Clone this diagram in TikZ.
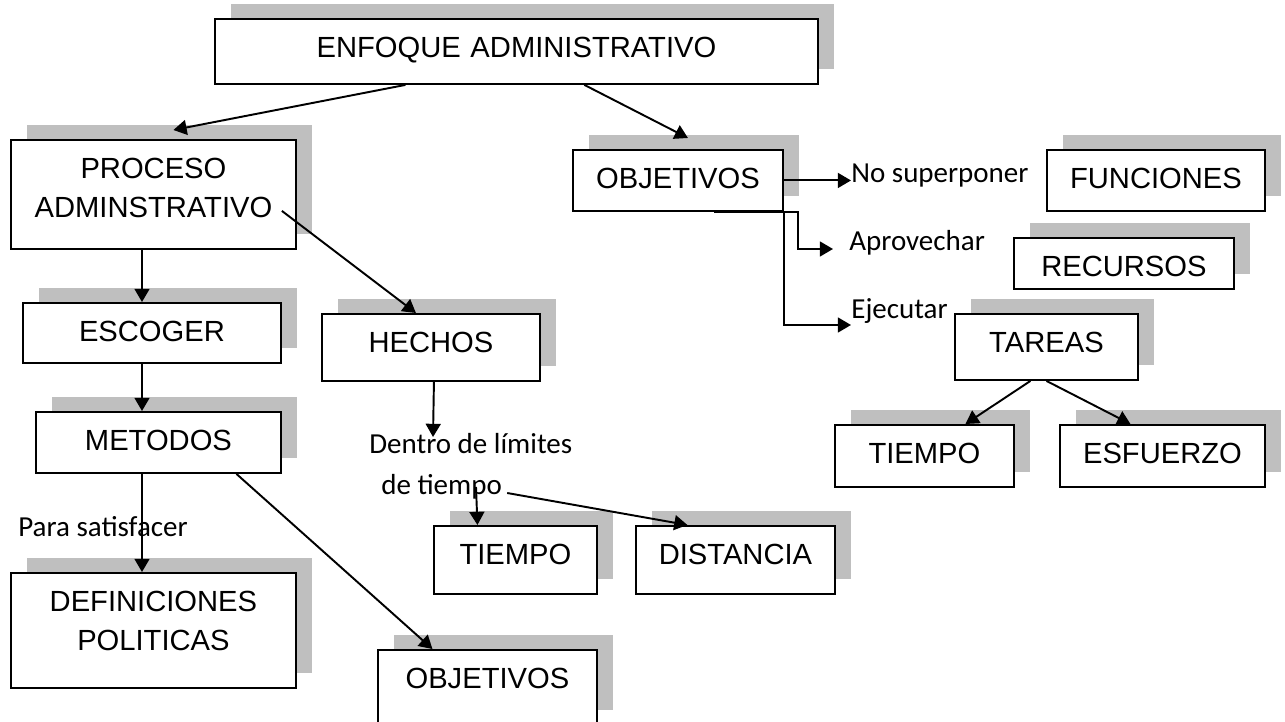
\documentclass[tikz,border=0pt]{standalone}
\usepackage{fontspec}
\setmainfont{Liberation Sans}
\newfontfamily\calibri{Carlito}
\usetikzlibrary{arrows.meta, shadows, calc}
\definecolor{sombra}{RGB}{191,191,191}

\begin{document}
\begin{tikzpicture}[x=0.02cm, y=-0.02cm,
  caja/.style 2 args={draw, fill=white, line width=1.1pt, inner sep=0pt, anchor=north west,
    text width=#1, align=center, text height=.77cm, text depth=#2,
    font=\fontsize{16.6}{22.5}\selectfont,
    general shadow={fill=sombra, shadow xshift=.32cm, shadow yshift=.3cm}},
  etiqueta/.style={inner sep=0pt, anchor=base west, font=\calibri\fontsize{16.5}{20}\selectfont},
  flecha/.style={line width=1.1pt, -{Triangle[length=7.5pt, width=8.5pt]}}]

\clip (0,0) rectangle (1285,722);

% Boxes
\node[caja={12.06cm}{.53cm}] (enf) at (214,18) {ENFOQUE ADMINISTRATIVO};
\node[caja={5.70cm}{1.41cm}] (proc) at (10,139) {PROCESO\\ADMINSTRATIVO};
\node[caja={4.20cm}{.45cm}] (objd) at (572,149) {OBJETIVOS};
\node[caja={4.36cm}{.45cm}] (fun) at (1046,149) {FUNCIONES};
\node[caja={4.40cm}{.25cm}] (rec) at (1013,237) {RECURSOS};
\node[caja={3.66cm}{.55cm}] (tar) at (954,313) {TAREAS};
\node[caja={3.58cm}{.47cm}] (tiemd) at (834,424) {TIEMPO};
\node[caja={4.10cm}{.47cm}] (esf) at (1059,424) {ESFUERZO};
\node[caja={5.16cm}{.43cm}] (esc) at (22,302) {ESCOGER};
\node[caja={4.36cm}{.57cm}] (hec) at (321,313) {HECHOS};
\node[caja={4.90cm}{.45cm}] (met) at (35,411) {METODOS};
\node[caja={5.70cm}{1.53cm}] (def) at (10,572) {DEFINICIONES\\POLITICAS};
\node[caja={4.38cm}{.73cm}] (obji) at (377,649) {OBJETIVOS};
\node[caja={3.26cm}{.59cm}] (tiemm) at (433,525) {TIEMPO};
\node[caja={3.98cm}{.59cm}] (dis) at (635,525) {DISTANCIA};

% Labels
\node[etiqueta] (nosup) at (851,183) {No superponer};
\node[etiqueta] (aprov) at (849,251) {Aprovechar};
\node[etiqueta] (ejec) at (851,319) {Ejecutar};
\node[etiqueta] (dentro) at (369,454) {Dentro de límites};
\node[etiqueta] (detiempo) at (381,495) {de tiempo};
\node[etiqueta] (para) at (18,537) {Para satisfacer};

\coordinate (eje) at (142,0);

% Arrows
\draw[flecha] ($(enf.south)+(-111,0)$) -- ($(proc.north)+(20,-9)$);
\draw[flecha] ($(enf.south)+(68,0)$) -- ($(objd.north)+(10,-11)$);
\draw[flecha] ($(proc.south east)+(-15,-39)$) -- ($(hec.north)+(-15,0)$);
\draw[flecha] (proc.south -| eje) -- (esc.north -| eje);
\draw[flecha] (esc.south -| eje) -- (met.north -| eje);
\draw[flecha] (met.south -| eje) -- (def.north -| eje);
\draw[flecha] ($(met.south)+(78,0)$) -- ($(obji.north)+(-55,0)$);
\draw[flecha] ($(hec.south)+(3,0)$) -- ($(dentro.base west)+(64,-17)$);
\draw[flecha] ($(detiempo.base west)+(95,-8)$) -- ($(tiemm.north)+(-38,0)$);
\draw[flecha] ($(detiempo.base east)+(5,-2)$) -- ($(dis.north)+(-48,0)$);
\draw[flecha] (objd.east) -- (objd.east -| nosup.west);
\draw[flecha] ($(objd.south)+(36,0)$) -| ($(aprov.base west)+(-51,-2)$) -- ($(aprov.base west)+(-16,-2)$);
\draw[flecha] (objd.south east) |- ($(ejec.base west)+(0,6)$);
\draw[flecha] ($(tar.south)+(-16,0)$) -- ($(tiemd.north)+(41,0)$);
\draw[flecha] (tar.south) -- ($(esf.north)+(-32,0)$);

\end{tikzpicture}
\end{document}
